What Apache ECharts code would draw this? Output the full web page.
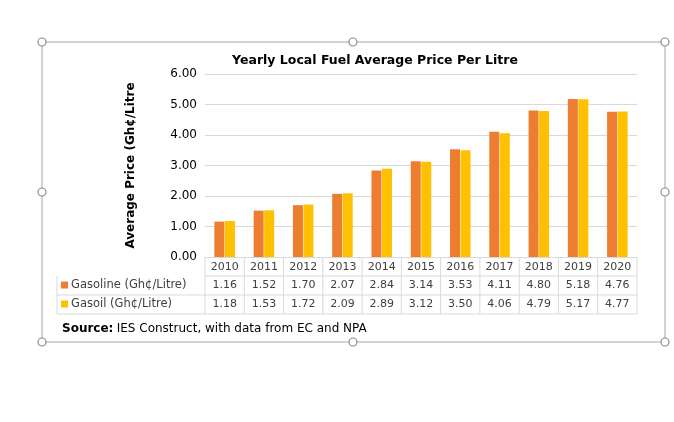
<!DOCTYPE html>
<html>
<head>
<meta charset="utf-8">
<script src="https://cdn.jsdelivr.net/npm/echarts@6/dist/echarts.min.js"></script>
<style>html,body{margin:0;padding:0;background:#fff}</style>
</head>
<body>
<div id="main" style="width:674px;height:422px;"></div>
<script>
var years = ['2010','2011','2012','2013','2014','2015','2016','2017','2018','2019','2020'];
var gasoline = [1.16,1.52,1.70,2.07,2.84,3.14,3.53,4.11,4.80,5.18,4.76];
var gasoil = [1.18,1.53,1.72,2.09,2.89,3.12,3.50,4.06,4.79,5.17,4.77];
var seriesNames = ['Gasoline (Gh¢/Litre)', 'Gasoil (Gh¢/Litre)'];
var colors = ['#ED7D31', '#FFC000'];

var font = '"DejaVu Sans", sans-serif';
var gl = 205, gr = 637, gt = 74, gb = 257;
var colW = (gr - gl) / years.length;
var rowH = 19;

var g = [];
// chart frame with handles
g.push({type:'rect', shape:{x:42,y:42,width:623,height:300}, style:{fill:'none',stroke:'#a6a6a6',lineWidth:1}});
[[42,42],[353,42],[665,42],[42,192],[665,192],[42,342],[353,342],[665,342]].forEach(function(p){
  g.push({type:'circle', shape:{cx:p[0],cy:p[1],r:4}, style:{fill:'#fff',stroke:'#8c8c8c',lineWidth:1.2}, z:10});
});
// data table lines
var tl = 57, tb = gb + rowH*3;
for (var r = 1; r <= 3; r++) {
  g.push({type:'line', shape:{x1:r==1?gl:tl, y1:gb+rowH*r, x2:gr, y2:gb+rowH*r}, style:{stroke:'#d9d9d9'}});
}
g.push({type:'line', shape:{x1:tl,y1:gb+rowH,x2:tl,y2:tb}, style:{stroke:'#d9d9d9'}});
for (var i = 0; i <= years.length; i++) {
  g.push({type:'line', shape:{x1:gl+colW*i,y1:gb,x2:gl+colW*i,y2:tb}, style:{stroke:'#d9d9d9'}});
}
[gasoline, gasoil].forEach(function(vals, s){
  var cy = gb + rowH*(s+1) + rowH/2;
  g.push({type:'rect', shape:{x:61,y:cy-4,width:7,height:7}, style:{fill:colors[s]}});
  g.push({type:'text', x:71, y:cy, style:{text:seriesNames[s], font:'11.5px '+font, fill:'#404040', verticalAlign:'middle'}});
  vals.forEach(function(v, i){
    g.push({type:'text', x:gl+colW*(i+0.5), y:cy, style:{text:v.toFixed(2), font:'11px '+font, fill:'#404040', align:'center', verticalAlign:'middle'}});
  });
});
g.push({type:'text', x:62, y:329, style:{rich:{b:{font:'bold 12px '+font, fill:'#000'}, n:{font:'12px '+font, fill:'#000'}}, text:'{b|Source:} {n|IES Construct, with data from EC and NPA}', verticalAlign:'middle'}});

var chart = echarts.init(document.getElementById('main'));
chart.setOption({
  animation: false,
  title: {text:'Yearly Local Fuel Average Price Per Litre', left:370, top:49, textAlign:'center',
    textStyle:{fontFamily:font, fontSize:12.5, fontWeight:'bold', color:'#000'}},
  grid: {left:gl, right:674-gr, top:gt, bottom:422-gb},
  xAxis: {type:'category', data:years, axisTick:{show:false},
    axisLine:{lineStyle:{color:'#d9d9d9'}},
    axisLabel:{fontFamily:font, fontSize:11, color:'#404040', margin:5}},
  yAxis: {type:'value', min:0, max:6, interval:1,
    name:'Average Price (Gh¢/Litre', nameLocation:'middle', nameGap:68, nameRotate:90,
    nameTextStyle:{fontFamily:font, fontSize:12, fontWeight:'bold', color:'#000'},
    axisLabel:{fontFamily:font, fontSize:12, color:'#000', formatter:function(v){return v.toFixed(2);}},
    splitLine:{lineStyle:{color:'#d9d9d9'}}},
  series: [
    {name:seriesNames[0], type:'bar', data:gasoline, barWidth:10, barGap:'5%', itemStyle:{color:colors[0]}},
    {name:seriesNames[1], type:'bar', data:gasoil, barWidth:10, itemStyle:{color:colors[1]}}
  ],
  graphic: g
});
</script>
</body>
</html>
